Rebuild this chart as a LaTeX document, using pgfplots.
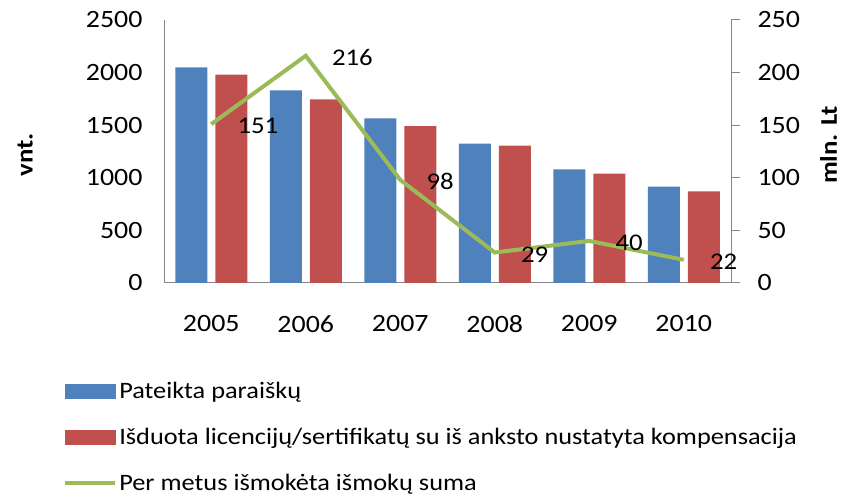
\documentclass[border=0pt]{standalone}
\usepackage{fontspec}
\setmainfont{Carlito}[FakeStretch=1.12]
\usepackage{pgfplots}
\pgfplotsset{compat=1.18}
\definecolor{cblue}{HTML}{4F81BD}
\definecolor{cred}{HTML}{C0504D}
\definecolor{cgreen}{HTML}{9BBB59}
\definecolor{caxis}{HTML}{868686}

\begin{document}
\begin{tikzpicture}[x=1bp,y=1bp]
\useasboundingbox (0,0) rectangle (844,499);
\pgfplotsset{
  base/.style={
    scale only axis, width=567bp, height=263bp,
    at={(164bp,216bp)}, anchor=south west,
    xmin=-0.5, xmax=5.5,
    axis line style={caxis, line width=1bp},
    tick style={caxis, line width=1bp},
    font=\fontsize{24}{28}\selectfont,
    /pgf/number format/assume math mode=true,
    /pgf/number format/1000 sep={},
  }
}
% bars: left axis
\begin{axis}[base,
  ymin=0, ymax=2500, ytick={0,500,...,2500},
  axis x line*=bottom, axis y line*=left,
  xtick={0,...,5}, xticklabels={2005,2006,2007,2008,2009,2010},
  major tick length=0pt,
  xticklabel style={anchor=center, yshift=-41bp, font=\fontsize{25}{28}\selectfont},
  yticklabel style={xshift=-18bp, font=\fontsize{25}{28}\selectfont},
  ybar=8bp, bar width=32bp,
  ylabel={\textbf{vnt.}},
  ylabel style={at={(axis description cs:-0.245,0.487)}, anchor=center},
]
\addplot[fill=cblue, draw=none] coordinates {(0,2050) (1,1830) (2,1565) (3,1325) (4,1080) (5,915)};
\addplot[fill=cred, draw=none] coordinates {(0,1980) (1,1745) (2,1490) (3,1305) (4,1040) (5,870)};
\end{axis}
% line: right axis
\begin{axis}[base, clip=false,
  ymin=0, ymax=250, ytick={0,50,...,250},
  axis y line*=right, axis x line=none,
  tick align=outside, major tick length=9bp,
  yticklabel style={xshift=14bp, font=\fontsize{25}{28}\selectfont},
  ylabel={\textbf{mln. Lt}},
  ylabel style={at={(axis description cs:1.172,0.525)}, anchor=center},
  legend style={at={(axis description cs:-0.178,-0.378)}, anchor=north west,
    draw=none, fill=none, inner sep=0pt, row sep=28bp, column sep=2bp,
    nodes={inner sep=0pt}, font=\fontsize{23.6}{28}\selectfont},
  legend cell align=left,
]
\addlegendimage{legend image code/.code={\fill[cblue] (0bp,-7bp) rectangle (50bp,7bp);}}
\addlegendentry{Pateikta paraiškų}
\addlegendimage{legend image code/.code={\fill[cred] (0bp,-7bp) rectangle (50bp,7bp);}}
\addlegendentry{Išduota licencijų/sertifikatų su iš anksto nustatyta kompensacija}
\addplot[cgreen, line width=4bp, mark=none,
  nodes near coords,
  nodes near coords style={anchor=west, xshift=21bp, yshift=-2bp, text=black, font=\fontsize{24}{28}\selectfont},
  legend image code/.code={\draw[cgreen, line width=4bp] (0bp,0bp) -- (50bp,0bp);}]
  coordinates {(0,151) (1,216) (2,98) (3,29) (4,40) (5,22)};
\addlegendentry{Per metus išmokėta išmokų suma}
\end{axis}
\end{tikzpicture}
\end{document}
